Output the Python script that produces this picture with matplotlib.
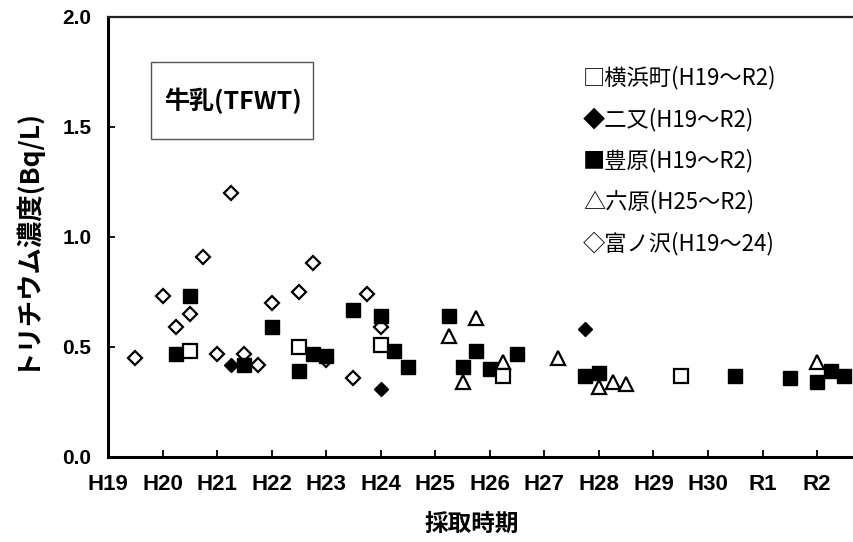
import matplotlib
matplotlib.use("Agg")
import matplotlib.pyplot as plt
from matplotlib.patches import Rectangle

plt.rcParams['font.family'] = ['Noto Sans CJK JP', 'DejaVu Sans']

# 採取時期 (年度, 0 = H19)
year_labels = ["H19", "H20", "H21", "H22", "H23", "H24", "H25", "H26",
               "H27", "H28", "H29", "H30", "R1", "R2"]

# 横浜町 (H19〜R2)
yokohama_x = [1.5, 3.5, 5.0, 7.25, 10.5]
yokohama_y = [0.48, 0.50, 0.51, 0.37, 0.37]

# 二又 (H19〜R2)
futamata_x = [2.25, 5.0, 8.75]
futamata_y = [0.42, 0.31, 0.58]

# 豊原 (H19〜R2)
toyohara_x = [1.25, 1.5, 2.5, 3.0, 3.5, 3.75, 4.0, 4.5, 5.0, 5.25, 5.5,
              6.25, 6.5, 6.75, 7.0, 7.5, 8.75, 9.0, 11.5, 12.5, 13.0,
              13.25, 13.5]
toyohara_y = [0.47, 0.73, 0.42, 0.59, 0.39, 0.47, 0.46, 0.67, 0.64, 0.48,
              0.41, 0.64, 0.41, 0.48, 0.40, 0.47, 0.37, 0.38, 0.37, 0.36,
              0.34, 0.39, 0.37]

# 六原 (H25〜R2)
rokkasho_x = [6.25, 6.5, 6.75, 7.25, 8.25, 9.0, 9.25, 9.5, 13.0]
rokkasho_y = [0.55, 0.34, 0.63, 0.43, 0.45, 0.32, 0.34, 0.33, 0.43]

# 富ノ沢 (H19〜24)
tominosawa_x = [0.5, 1.0, 1.25, 1.5, 1.75, 2.0, 2.25, 2.5, 2.75, 3.0,
                3.5, 3.75, 4.0, 4.5, 4.75, 5.0]
tominosawa_y = [0.45, 0.73, 0.59, 0.65, 0.91, 0.47, 1.20, 0.47, 0.42, 0.70,
                0.75, 0.88, 0.44, 0.36, 0.74, 0.59]

legend_lines = ["□横浜町(H19～R2)", "◆二又(H19～R2)", "■豊原(H19～R2)",
                "△六原(H25～R2)", "◇富ノ沢(H19～24)"]

W, H = 854, 542
fig = plt.figure(figsize=(W / 100, H / 100), dpi=100)
ax = fig.add_axes([108 / W, 85 / H, 746 / W, 440 / H])

open_kw = dict(linestyle="none", markerfacecolor="white",
               markeredgecolor="black", markeredgewidth=1.6)
ax.plot(tominosawa_x, tominosawa_y, marker="D", markersize=7.2, zorder=3, **open_kw)
ax.plot(toyohara_x, toyohara_y, marker="s", markersize=10.5, linestyle="none",
        color="black", zorder=4)
ax.plot(futamata_x, futamata_y, marker="D", markersize=7.2, linestyle="none",
        color="black", zorder=4)
ax.plot(rokkasho_x, rokkasho_y, marker="^", markersize=10, zorder=5, **open_kw)
ax.plot(yokohama_x, yokohama_y, marker="s", markersize=9.5, zorder=6, **open_kw)

ax.set_xlim(0, (W - 108) / 54.55)
ax.set_ylim(0, 2.0)
ax.set_xticks(range(len(year_labels)))
ax.set_xticklabels(year_labels)
ax.set_yticks([0.0, 0.5, 1.0, 1.5, 2.0])
ax.set_yticklabels(["0.0", "0.5", "1.0", "1.5", "2.0"])

for lab in ax.get_xticklabels():
    lab.set_family(["Liberation Sans Narrow", "Liberation Sans"])
    lab.set_fontweight("bold")
    lab.set_fontsize(16)
for lab in ax.get_yticklabels():
    lab.set_family(["Liberation Sans"])
    lab.set_fontweight("bold")
    lab.set_fontsize(15)

ax.tick_params(axis="both", direction="in", length=5, width=1.3, color="black")
ax.tick_params(axis="x", pad=12)
ax.tick_params(axis="y", pad=12)

ax.spines["right"].set_visible(False)
ax.spines["left"].set_linewidth(2.2)
ax.spines["bottom"].set_linewidth(2.2)
ax.spines["top"].set_linewidth(1.6)
ax.spines["top"].set_color("#222222")

# タイトル枠
fig.add_artist(Rectangle((151 / W, 1 - 139 / H), 162 / W, 77 / H,
                         transform=fig.transFigure, fill=False,
                         edgecolor="#555555", linewidth=1))
fig.text(233 / W, 1 - 101 / H, "牛乳(TFWT)", fontsize=18, fontweight="bold",
         ha="center", va="center")

# 凡例 (記号付きテキスト)
for i, line in enumerate(legend_lines):
    fig.text(583 / W, 1 - (78 + 41.3 * i) / H, line, fontsize=16,
             ha="left", va="center")

fig.text(24 / W, 1 - 237 / H, "トリチウム濃度(Bq/L)", fontsize=19,
         fontweight="bold", rotation=90, ha="center", va="center")
fig.text(472 / W, 1 - 524 / H, "採取時期", fontsize=17, fontweight="bold",
         ha="center", va="center")

fig.savefig("out.png", dpi=100)
